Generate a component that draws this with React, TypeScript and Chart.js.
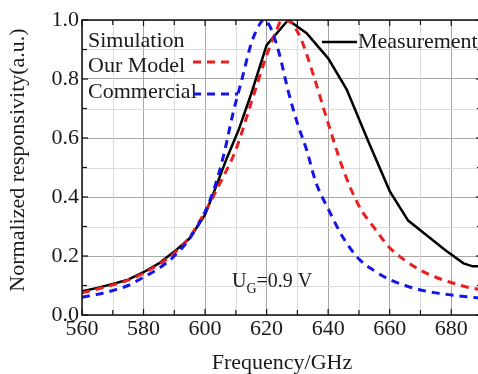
import React, { useEffect, useRef } from "react";
import { Chart, registerables } from "chart.js";

Chart.register(...registerables);

// ---- data ----
const measFreq = [560, 565, 570, 575, 580, 585, 590, 595, 600, 603, 607, 611, 615, 620, 627, 633, 640, 646, 653, 660, 666, 672, 678, 684, 687, 690];
const measVal = [0.08, 0.092, 0.105, 0.12, 0.145, 0.175, 0.215, 0.26, 0.34, 0.42, 0.53, 0.63, 0.75, 0.915, 1.0, 0.955, 0.87, 0.765, 0.59, 0.42, 0.32, 0.27, 0.22, 0.175, 0.165, 0.165];

const modelFreq = [560, 565, 570, 575, 580, 585, 590, 595, 600, 605, 610, 615, 620, 623, 625, 628, 631, 635, 640, 645, 650, 655, 660, 665, 670, 675, 680, 685, 690];
const modelVal = [0.075, 0.088, 0.102, 0.118, 0.142, 0.172, 0.21, 0.265, 0.35, 0.45, 0.56, 0.72, 0.88, 0.96, 1.0, 0.99, 0.94, 0.82, 0.65, 0.49, 0.37, 0.295, 0.228, 0.185, 0.152, 0.128, 0.11, 0.095, 0.085];

const commFreq = [560, 565, 570, 575, 580, 585, 590, 595, 600, 603, 606, 609, 612, 615, 618, 619, 621, 624, 627, 630, 633, 636, 640, 645, 650, 655, 660, 665, 670, 675, 680, 685, 690];
const commVal = [0.06, 0.07, 0.083, 0.1, 0.128, 0.158, 0.2, 0.26, 0.35, 0.43, 0.54, 0.68, 0.8, 0.92, 0.99, 1.0, 0.98, 0.89, 0.76, 0.65, 0.56, 0.45, 0.36, 0.26, 0.19, 0.15, 0.12, 0.1, 0.085, 0.075, 0.068, 0.062, 0.057];

const xTicks = [560, 580, 600, 620, 640, 660, 680];
const xMinor = [570, 590, 610, 630, 650, 670, 690];
const yTicks = [0, 0.2, 0.4, 0.6, 0.8, 1.0];
const yMinor = [0.1, 0.3, 0.5, 0.7, 0.9];

const xTitle = "Frequency/GHz";
const yTitle = "Normalized responsivity(a.u.)";
const legendSim = "Simulation";
const legendModel = "Our Model";
const legendComm = "Commercial";
const legendMeas = "Measurements";
const annotMain = "U";
const annotSub = "G";
const annotRest = "=0.9 V";

const SERIF = "'Liberation Serif', 'Times New Roman', serif";
const RED = "rgb(235,30,30)";
const BLUE = "rgb(20,20,235)";
const TEXT = "#1a1a1a";

const toPts = (xs: number[], ys: number[]) => xs.map((x, i) => ({ x, y: ys[i] }));

const framePlugin = {
  id: "frame",
  beforeDatasetsDraw(chart: any) {
    const { ctx, chartArea: a, scales } = chart;
    const xs = scales.x, ys = scales.y;
    ctx.save();
    ctx.strokeStyle = "#dcdcdc";
    ctx.lineWidth = 1;
    xMinor.forEach((v) => {
      const px = Math.round(xs.getPixelForValue(v)) + 0.5;
      ctx.beginPath(); ctx.moveTo(px, a.top); ctx.lineTo(px, a.bottom); ctx.stroke();
    });
    yMinor.forEach((v) => {
      const py = Math.round(ys.getPixelForValue(v)) + 0.5;
      ctx.beginPath(); ctx.moveTo(a.left, py); ctx.lineTo(a.right, py); ctx.stroke();
    });
    ctx.restore();
  },
  afterDatasetsDraw(chart: any) {
    const { ctx, chartArea: a, scales } = chart;
    const xs = scales.x, ys = scales.y;
    ctx.save();
    ctx.strokeStyle = "#111";
    ctx.lineWidth = 1.5;
    ctx.strokeRect(a.left, a.top, a.right - a.left, a.bottom - a.top);
    ctx.lineWidth = 1.2;
    const tick = (x1: number, y1: number, x2: number, y2: number) => {
      ctx.beginPath(); ctx.moveTo(x1, y1); ctx.lineTo(x2, y2); ctx.stroke();
    };
    [...xTicks, ...xMinor].forEach((v) => {
      const px = xs.getPixelForValue(v);
      const L = xTicks.includes(v) ? 6 : 5;
      tick(px, a.bottom, px, a.bottom - L);
      tick(px, a.top, px, a.top + L);
    });
    [...yTicks, ...yMinor].forEach((v) => {
      const py = ys.getPixelForValue(v);
      const L = yTicks.includes(v) ? 6 : 5;
      tick(a.left, py, a.left + L, py);
      tick(a.right, py, a.right - L, py);
    });
    ctx.restore();
  },
  afterDraw(chart: any) {
    const { ctx } = chart;
    ctx.save();
    ctx.fillStyle = TEXT;
    ctx.textBaseline = "alphabetic";
    ctx.textAlign = "left";
    ctx.font = `22px ${SERIF}`;
    ctx.fillText(legendSim, 88, 47);
    ctx.fillText(legendModel, 88, 72);
    ctx.fillText(legendComm, 88, 98);
    ctx.fillText(legendMeas, 358, 48);

    ctx.lineWidth = 3;
    ctx.setLineDash([8, 6]);
    ctx.strokeStyle = RED;
    ctx.beginPath(); ctx.moveTo(193, 62); ctx.lineTo(230, 62); ctx.stroke();
    ctx.strokeStyle = BLUE;
    ctx.beginPath(); ctx.moveTo(193, 94); ctx.lineTo(238, 94); ctx.stroke();
    ctx.setLineDash([]);
    ctx.lineWidth = 2.5;
    ctx.strokeStyle = "#000";
    ctx.beginPath(); ctx.moveTo(322, 42); ctx.lineTo(357, 42); ctx.stroke();

    ctx.font = `20px ${SERIF}`;
    ctx.fillText(annotMain, 232, 287);
    const uw = ctx.measureText(annotMain).width;
    ctx.font = `14px ${SERIF}`;
    ctx.fillText(annotSub, 232 + uw, 293);
    const gw = ctx.measureText(annotSub).width;
    ctx.font = `20px ${SERIF}`;
    ctx.fillText(annotRest, 232 + uw + gw, 287);

    // y-axis title
    ctx.save();
    ctx.translate(18, 160);
    ctx.rotate(-Math.PI / 2);
    ctx.textAlign = "center";
    ctx.textBaseline = "middle";
    ctx.font = `22px ${SERIF}`;
    ctx.fillText(yTitle, 0, 0);
    ctx.restore();

    ctx.restore();
  },
};

export default function App() {
  const ref = useRef<HTMLCanvasElement>(null);
  useEffect(() => {
    document.body.style.margin = "0";
    const canvas = ref.current!;
    const chart = new Chart(canvas, {
      type: "line",
      data: {
        datasets: [
          {
            label: legendMeas,
            data: toPts(measFreq, measVal),
            borderColor: "#000",
            borderWidth: 2.5,
            pointRadius: 0,
            tension: 0,
            order: 3,
          },
          {
            label: legendModel,
            data: toPts(modelFreq, modelVal),
            borderColor: RED,
            borderWidth: 3,
            borderDash: [8, 6],
            pointRadius: 0,
            cubicInterpolationMode: "monotone",
            order: 2,
          },
          {
            label: legendComm,
            data: toPts(commFreq, commVal),
            borderColor: BLUE,
            borderWidth: 3,
            borderDash: [8, 6],
            pointRadius: 0,
            cubicInterpolationMode: "monotone",
            order: 1,
          },
        ],
      },
      options: {
        responsive: false,
        animation: false,
        layout: { padding: { top: 20, right: 2, bottom: 0, left: 0 } },
        plugins: { legend: { display: false }, tooltip: { enabled: false } },
        scales: {
          x: {
            type: "linear",
            min: 560,
            max: 690,
            afterBuildTicks: (s: any) => {
              s.ticks = xTicks.map((v) => ({ value: v }));
            },
            afterFit: (s: any) => {
              s.height = 59;
            },
            grid: { color: "#a8a8a8", lineWidth: 1, drawTicks: false },
            border: { display: false },
            ticks: {
              font: { family: SERIF, size: 22 },
              color: TEXT,
              padding: 1,
              maxRotation: 0,
              autoSkip: false,
            },
            title: {
              display: true,
              text: xTitle,
              font: { family: SERIF, size: 22, lineHeight: 1 },
              color: TEXT,
              padding: 0,
            },
          },
          y: {
            type: "linear",
            min: 0,
            max: 1,
            afterBuildTicks: (s: any) => {
              s.ticks = yTicks.map((v) => ({ value: v }));
            },
            afterFit: (s: any) => {
              s.width = 82;
            },
            grid: { color: "#a8a8a8", lineWidth: 1, drawTicks: false },
            border: { display: false },
            ticks: {
              font: { family: SERIF, size: 22 },
              color: TEXT,
              padding: 3,
              callback: (v: any) => Number(v).toFixed(1),
            },
            title: { display: false },
          },
        },
      },
      plugins: [framePlugin],
    } as any);
    return () => chart.destroy();
  }, []);
  return (
    <div style={{ width: 478, height: 374, overflow: "hidden", position: "relative" }}>
      <canvas ref={ref} width={484} height={374} style={{ display: "block", width: 484, height: 374 }} />
    </div>
  );
}
